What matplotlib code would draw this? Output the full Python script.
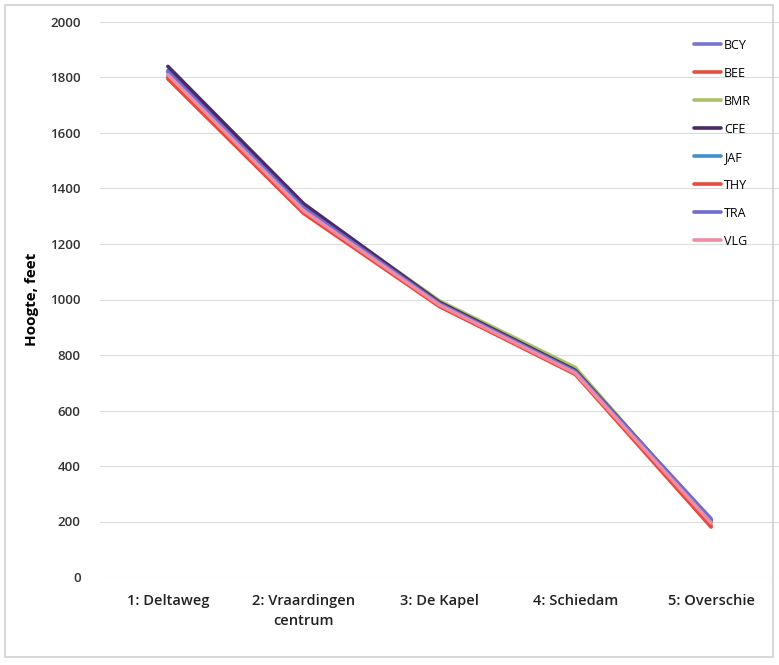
import numpy as np
import matplotlib
matplotlib.use("Agg")
import matplotlib.pyplot as plt
from matplotlib.patches import Rectangle

# dados
haltes = ["1: Deltaweg", "2: Vraardingen\ncentrum", "3: De Kapel", "4: Schiedam", "5: Overschie"]
reeksen = ["BCY", "BEE", "BMR", "CFE", "JAF", "THY", "TRA", "VLG"]
BCY = [1825, 1335, 985, 740, 200]
BEE = [1800, 1315, 975, 735, 185]
BMR = [1815, 1340, 995, 755, 195]
CFE = [1840, 1345, 990, 745, 205]
JAF = [1805, 1325, 980, 740, 200]
THY = [1795, 1310, 975, 730, 180]
TRA = [1820, 1330, 985, 740, 210]
VLG = [1810, 1320, 980, 735, 195]
waarden = [BCY, BEE, BMR, CFE, JAF, THY, TRA, VLG]
kleuren = ["#7474d4", "#e2503e", "#a8c263", "#4c2a6a", "#4090cc", "#e84a3c", "#6c6cd2", "#f08ca2"]
yticks = [0, 200, 400, 600, 800, 1000, 1200, 1400, 1600, 1800, 2000]

plt.rcParams['font.family'] = ['Open Sans', 'DejaVu Sans']

fig = plt.figure(figsize=(7.79, 6.65), dpi=100)
ax = fig.add_axes([100/779, 88/665, 679/779, 555/665])

x = np.arange(len(haltes))
for i, nome in enumerate(reeksen):
    ax.plot(x, waarden[i], color=kleuren[i], lw=2.6, label=nome, zorder=3 + i,
            solid_capstyle='round')

ax.set_xlim(-0.5, len(haltes) - 0.5)
ax.set_ylim(0, 2000)
ax.set_yticks(yticks)
ax.set_yticklabels([str(v) for v in yticks], fontsize=9.5, fontweight='semibold', color='#333333')
ax.set_xticks(x)
ax.set_xticklabels(haltes, fontsize=10.5, fontweight='semibold', color='#222222', linespacing=1.6)
ax.tick_params(axis='y', length=0, pad=14)
ax.tick_params(axis='x', length=0, pad=12)
ax.grid(axis='y', color='#dcdcdc', lw=0.8)
for s in ax.spines.values():
    s.set_visible(False)

ax.set_ylabel("Hoogte, feet", fontsize=11, fontweight='bold', labelpad=8)

ax.legend(loc='upper right', bbox_to_anchor=(0.975, 0.99), frameon=False, fontsize=9,
          handlelength=2.2, handletextpad=0.2, labelspacing=1.2)

# moldura
fig.patches.append(Rectangle((5/779, 8/665), 768/779, 652/665, transform=fig.transFigure,
                             fill=False, edgecolor='#d0d0d0', lw=1.2))

fig.savefig("out.png", dpi=100)
